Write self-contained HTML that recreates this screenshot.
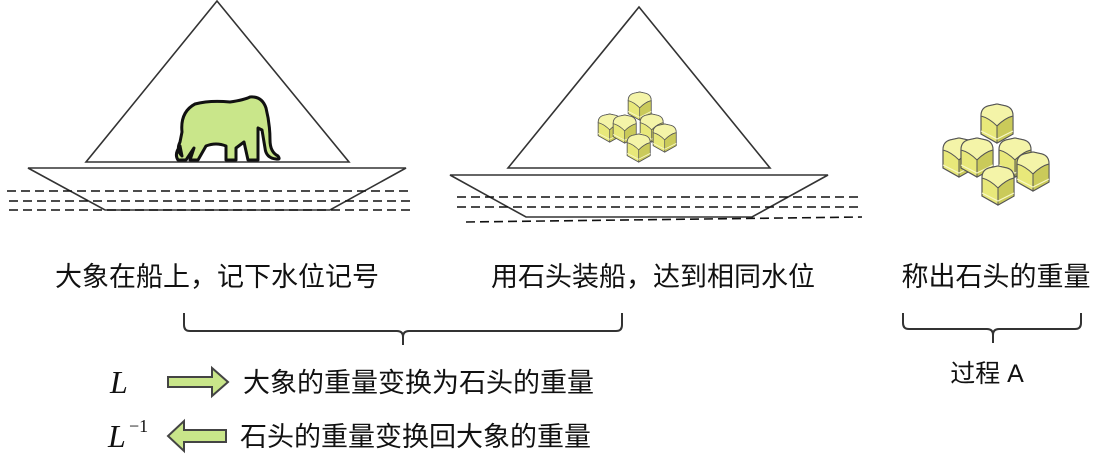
<!DOCTYPE html>
<html><head><meta charset="utf-8"><style>
body{margin:0;background:#fff;width:1112px;height:464px;overflow:hidden}
svg text{font-family:"Liberation Sans","Noto Sans CJK SC",sans-serif;fill:#111}
</style></head><body>
<svg width="1112" height="464" viewBox="0 0 1112 464" xmlns="http://www.w3.org/2000/svg">
<defs>
<g id="cube">
<path d="M3,12 Q3,4 10,2 L19,0 L28,2 Q35,4 35,12 L35,30 L19,39 L3,30 Z" fill="#e8e87a" stroke="#555" stroke-width="1.2"/>
<path d="M3,12 Q3,4 10,2 L19,0 L28,2 Q35,4 35,12 Q27,14 19,22 Q11,14 3,12 Z" fill="#f4f4a8" stroke="#555" stroke-width="1"/>
<path d="M19,22 L19,39 L35,30 L35,12 Q27,14 19,22 Z" fill="#caca5a" stroke="#555" stroke-width="1"/>
<path d="M3,27 L19,35 L35,27" fill="none" stroke="#f8f8c8" stroke-width="1.2"/>
</g>
</defs>
<g fill="none" stroke="#333" stroke-width="1.6">
<polygon points="217,1 86,162 349,162"/>
<polygon points="28,168 406,168 330,210 105,210" fill="#fff"/>
<polygon points="639,7 508,168 770,168"/>
<polygon points="450,175 828,175 752,217 526,217" fill="#fff"/>
</g>
<g stroke="#111" stroke-width="1.6" stroke-dasharray="9,5">
<line x1="7" y1="191" x2="410" y2="191"/>
<line x1="9" y1="201" x2="410" y2="201"/>
<line x1="9" y1="210" x2="410" y2="210"/>
<line x1="457" y1="197" x2="862" y2="197"/>
<line x1="457" y1="207" x2="858" y2="207"/>
<line x1="466" y1="222" x2="862" y2="217"/>
</g>
<path d="M182,156 Q176,150 180,142 L182,132 Q180,112 195,104 Q210,100 230,102 Q244,100 250,97 Q262,96 266,108 Q270,124 270,140 Q270,152 278,156 Q281,160 276,159 Q266,158 265,148 L262,130 L258,128 L258,160 L248,160 L244,142 L236,148 L236,160 L226,160 L226,146 Q216,142 206,146 L198,160 L190,160 L194,148 Q190,154 186,160 L178,160 Q174,154 180,146 Z" fill="#c9e68a" stroke="#111" stroke-width="3" stroke-linejoin="round"/>
<use href="#cube" transform="translate(596,114) scale(0.72)"/>
<use href="#cube" transform="translate(626,92) scale(0.72)"/>
<use href="#cube" transform="translate(638,114) scale(0.72)"/>
<use href="#cube" transform="translate(611,115) scale(0.72)"/>
<use href="#cube" transform="translate(651,124) scale(0.72)"/>
<use href="#cube" transform="translate(625,134) scale(0.72)"/>
<use href="#cube" transform="translate(940,138)"/>
<use href="#cube" transform="translate(978,104)"/>
<use href="#cube" transform="translate(996,138)"/>
<use href="#cube" transform="translate(958,138)"/>
<use href="#cube" transform="translate(1014,152)"/>
<use href="#cube" transform="translate(979,166)"/>
<text x="217" y="286" font-size="27" text-anchor="middle">大象在船上，记下水位记号</text>
<text x="653" y="286" font-size="27" text-anchor="middle">用石头装船，达到相同水位</text>
<text x="996" y="286" font-size="27" text-anchor="middle">称出石头的重量</text>
<g fill="none" stroke="#333" stroke-width="2">
<path d="M184,313 L184,325 Q184,331 190,331 L397,331 Q403,331 403,337 L403,345 M403,337 Q403,331 409,331 L616,331 Q622,331 622,325 L622,313"/>
<path d="M903,313 L903,323 Q903,329 909,329 L987,329 Q993,329 993,335 L993,343 M993,335 Q993,329 999,329 L1075,329 Q1081,329 1081,323 L1081,313"/>
</g>
<text x="987" y="382" font-size="25" text-anchor="middle">过程 A</text>
<text x="110" y="393" font-size="32" font-style="italic" style="font-family:'Liberation Serif',serif">L</text>
<text x="108" y="447" font-size="32" font-style="italic" style="font-family:'Liberation Serif',serif">L</text>
<text x="129" y="432" font-size="18" style="font-family:'Liberation Serif',serif">−1</text>
<path d="M168,377 L212,377 L212,368 L228,382 L212,396 L212,387 L168,387 Z" fill="#c9e68a" stroke="#444" stroke-width="2"/>
<path d="M226,430 L184,430 L184,421 L168,436 L184,451 L184,442 L226,442 Z" fill="#c9e68a" stroke="#444" stroke-width="2"/>
<text x="243" y="392" font-size="27">大象的重量变换为石头的重量</text>
<text x="240" y="446" font-size="27">石头的重量变换回大象的重量</text>
</svg>
</body></html>
